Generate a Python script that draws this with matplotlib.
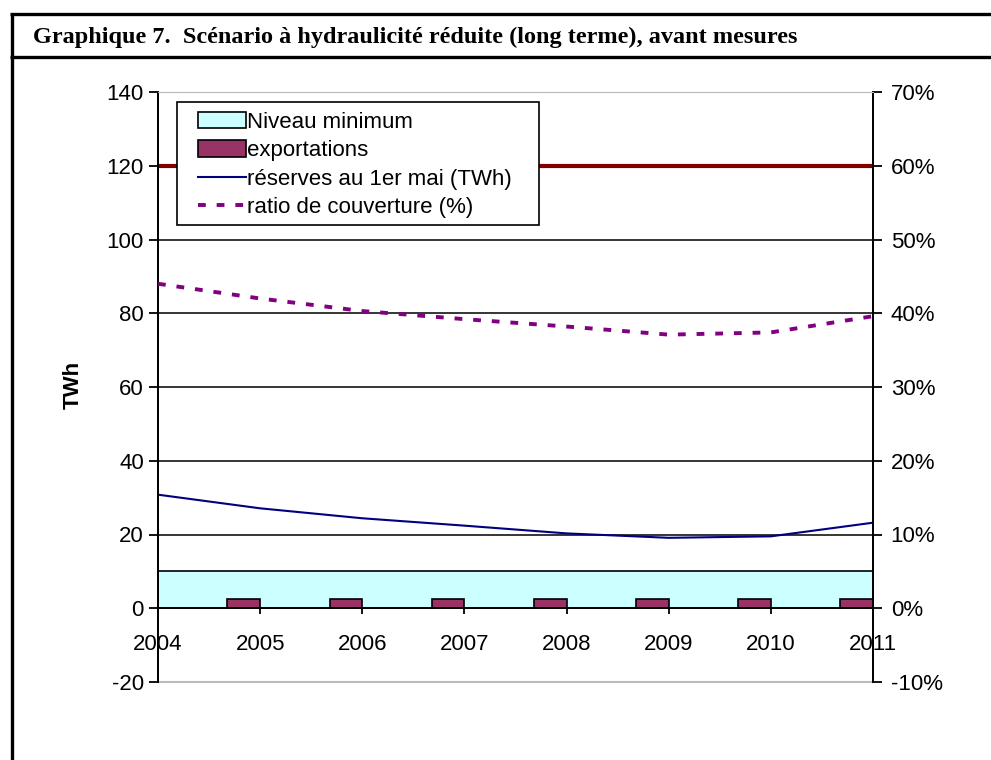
import matplotlib
matplotlib.use("Agg")
import matplotlib.pyplot as plt
from matplotlib.patches import Patch, Rectangle
from matplotlib.lines import Line2D
from matplotlib.ticker import FuncFormatter, MultipleLocator

plt.rcParams["font.family"] = ["Liberation Sans", "DejaVu Sans"]

# Series
annees = [2004, 2005, 2006, 2007, 2008, 2009, 2010, 2011]
niveau_minimum = [10, 10, 10, 10, 10, 10, 10, 10]
annees_export = [2005, 2006, 2007, 2008, 2009, 2010, 2011]
exportations = [2.5, 2.5, 2.5, 2.5, 2.5, 2.5, 2.5]
reserves_twh = [30.8, 27.1, 24.4, 22.4, 20.3, 19.1, 19.5, 23.2]
ratio_couverture = [44.0, 42.0, 40.3, 39.2, 38.2, 37.1, 37.4, 39.6]
capacite_max = [120, 120, 120, 120, 120, 120, 120, 120]

titre = "Graphique 7.  Scénario à hydraulicité réduite (long terme), avant mesures"

FS = 16
W, H = 991, 760
fig = plt.figure(figsize=(W / 100, H / 100), dpi=100)
fig.patch.set_facecolor("white")

# frame around the figure, with the title rule
fig.add_artist(Line2D([11.5 / W, 11.5 / W], [0, 1 - 13.5 / H], color="black", lw=2.4,
                      transform=fig.transFigure, solid_capstyle="butt"))
fig.add_artist(Line2D([10 / W, 1], [1 - 13.5 / H, 1 - 13.5 / H], color="black", lw=2.4,
                      transform=fig.transFigure, solid_capstyle="butt"))
fig.add_artist(Line2D([10 / W, 1], [1 - 57 / H, 1 - 57 / H], color="black", lw=2.4,
                      transform=fig.transFigure, solid_capstyle="butt"))
fig.text(33 / W, 1 - 37 / H, titre, fontsize=17.5, fontweight="bold",
         family=["Liberation Serif", "DejaVu Serif"], ha="left", va="center")

ax = fig.add_axes([158 / W, 1 - 682 / H, 715 / W, 590 / H])
ax.set_xlim(2004, 2011)
ax.set_ylim(-20, 140)
ax.yaxis.set_major_locator(MultipleLocator(20))
ax.yaxis.set_major_formatter(FuncFormatter(lambda v, p: f"{v:.0f}"))
ax.set_xticks(annees)

# minimum level band
ax.fill_between(annees, 0, niveau_minimum, facecolor="#CCFFFF", edgecolor="black",
                linewidth=1.2, zorder=2)
# exports
ax.bar(annees_export, exportations, width=-0.32, align="edge", color="#993366",
       edgecolor="black", linewidth=1.2, zorder=3)
# reservoir capacity
ax.plot(annees, capacite_max, color="#800000", lw=3, zorder=4, solid_capstyle="butt")
# reserves on 1 May
ax.plot(annees, reserves_twh, color="#000080", lw=1.5, zorder=5)

ax2 = ax.twinx()
ax2.set_ylim(-10, 70)
ax2.yaxis.set_major_locator(MultipleLocator(10))
ax2.yaxis.set_major_formatter(FuncFormatter(lambda v, p: f"{v:.0f}%"))
ax2.plot(annees, ratio_couverture, color="#800080", lw=2.8, linestyle=(0, (2.0, 2.8)),
         zorder=5)

# gridlines
ax.yaxis.grid(True, color="black", lw=1.1, zorder=1)
ax.set_axisbelow(True)
gl = ax.get_ygridlines()
gl[0].set_color("#BBBBBB")
gl[-1].set_color("#BBBBBB")

for a in (ax, ax2):
    a.spines["top"].set_color("#BBBBBB")
    a.spines["left"].set_linewidth(1.3)
    a.spines["right"].set_linewidth(1.3)
ax.spines["bottom"].set_position(("data", 0))
ax.spines["bottom"].set_linewidth(1.3)
ax.spines["bottom"].set_zorder(6)
ax2.spines["bottom"].set_visible(False)
ax.axhline(-20, color="#BBBBBB", lw=1.5, clip_on=False)

ax.tick_params(axis="y", direction="out", length=6.5, width=1.3, pad=3.6, labelsize=FS)
ax.tick_params(axis="x", direction="out", length=4.3, width=1.3, pad=14, labelsize=FS)
ax2.tick_params(axis="y", direction="out", length=6.5, width=1.3, pad=6.2, labelsize=FS)
ax.set_xticklabels([str(a) for a in annees])

fig.text(73 / W, 1 - 385 / H, "TWh", rotation=90, fontsize=FS, fontweight="bold",
         ha="center", va="center")

# legend box
fig.add_artist(Rectangle((177 / W, 1 - 225 / H), 362 / W, 123 / H,
                         transform=fig.transFigure, facecolor="white",
                         edgecolor="black", linewidth=1.2, zorder=9))
handles = [
    Patch(facecolor="#CCFFFF", edgecolor="black", linewidth=1.2),
    Patch(facecolor="#993366", edgecolor="black", linewidth=1.2),
    Line2D([], [], color="#000080", lw=1.5),
    Line2D([], [], color="#800080", lw=2.8, linestyle=(0, (2.0, 2.8))),
]
labels = ["Niveau minimum", "exportations", "réserves au 1er mai (TWh)",
          "ratio de couverture (%)"]
leg = fig.legend(handles, labels, loc="upper left",
                 bbox_to_anchor=(198 / W, 1 - 112 / H), fontsize=FS,
                 frameon=False, handlelength=2.15, handleheight=0.75,
                 handletextpad=0.05, labelspacing=0.33, borderpad=0,
                 borderaxespad=0)
leg.set_zorder(10)

fig.savefig("out.png", dpi=100)
